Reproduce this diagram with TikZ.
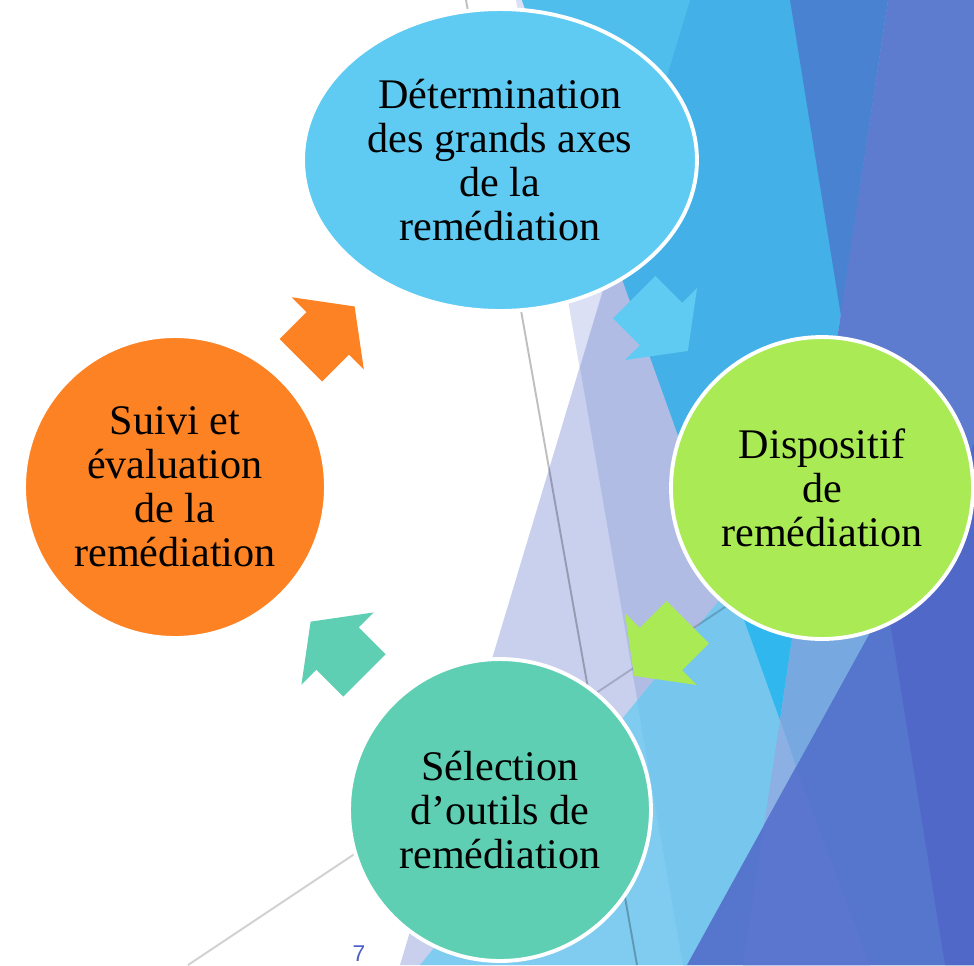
\documentclass[tikz,border=0pt]{standalone}
\usepackage{fontspec}
\setmainfont{Liberation Serif}
\newfontfamily\pagefont{Liberation Sans}
\usepackage{tikz}
\usetikzlibrary{shapes.geometric,calc}
\definecolor{bleuetape}{HTML}{5FCBF2}
\definecolor{vertetape}{HTML}{A9EA55}
\definecolor{tealetape}{HTML}{5ECFB3}
\definecolor{orangeetape}{HTML}{FD8223}
\definecolor{lavA}{HTML}{DCE0F4}
\definecolor{lavB}{HTML}{C8D0EE}
\definecolor{lavAB}{HTML}{B1BCE5}
\definecolor{facetA}{HTML}{50BEEC}
\definecolor{facetB}{HTML}{43B1E7}
\definecolor{facetC}{HTML}{4A82D2}
\definecolor{facetD}{HTML}{5E7CCF}
\definecolor{bandeA}{HTML}{80CCF0}
\definecolor{bandeB}{HTML}{76C6EE}
\definecolor{bandeC}{HTML}{30B8EE}
\definecolor{bandeD}{HTML}{77A9E0}
\definecolor{bandeE}{HTML}{8CB0E4}
\definecolor{basA}{HTML}{5675CD}
\definecolor{basB}{HTML}{5B76CE}
\definecolor{basC}{HTML}{5069C8}
\definecolor{numbleu}{HTML}{4A5FC8}
\tikzset{
	etape/.style={fill=#1, draw=white, line width=2.2pt, inner sep=0pt, align=center, font=\fontsize{24}{25}\selectfont},
	cercle/.style={etape=#1, circle, minimum size=6.04cm},
	trait/.style={draw=black, line width=1.1pt, draw opacity=#1}
}
\newcommand{\fleche}[3]{\fill[#3, shift={(#1)}, rotate=#2] (-38,-30) -- (0,-30) -- (0,-51) -- (38,0) -- (0,51) -- (0,30) -- (-38,30) -- cycle;}

\begin{document}
\begin{tikzpicture}[x=0.02cm, y=-0.02cm]
				\useasboundingbox (0,0) rectangle (974,965);
				\clip (0,0) rectangle (974,965);
				\fill[lavA] (516,0) -- (974,0) -- (974,965) -- (683,965) -- cycle;
				\fill[lavB] (690,0) -- (974,0) -- (974,965) -- (400,965) -- cycle;
				\fill[lavAB] (690,0) -- (580,367.5) -- (683,965) -- (974,965) -- (974,0) -- cycle;
				\fill[facetB] (522,0) -- (888,0) -- (780,720) -- cycle;
				\fill[facetA] (522,0) -- (690,0) -- (613,255) -- cycle;
				\fill[facetC] (790,0) -- (888,0) -- (841,316) -- cycle;
				\fill[facetD] (888,0) -- (974,0) -- (974,965) -- (743,965) -- (780,720) -- cycle;
				\fill[bandeA] (818,480) -- (910,560) -- (687,965) -- (420,965) -- cycle;
				\fill[bandeB] (637,701) -- (818,480) -- (910,560) -- (687,965) -- (683,965) -- cycle;
				\fill[bandeC] (732,586) -- (815,484) -- (780,720) -- cycle;
				\fill[bandeD] (815,484) -- (910,560) -- (796,767) -- (780,720) -- cycle;
				\fill[bandeE] (780,720) -- (796,767) -- (764,825) -- cycle;
				\fill[basA] (974,444) -- (974,965) -- (687,965) -- cycle;
				\fill[basB] (796,767) -- (764,825) -- (743,965) -- (870,965) -- cycle;
				\fill[basC] (887,603) -- (945,965) -- (974,965) -- (974,444) -- cycle;
				\draw[trait=0.25] (466,0) -- (637,965);
				\draw[trait=0.18] (188,965) -- (740,597);
				\node[etape=bleuetape, ellipse, minimum width=7.88cm, minimum height=6.04cm] (determ) at (500,160) {Détermination\\des grands axes\\de la\\remédiation};
				\node[cercle=vertetape] (dispo) at (822,488) {Dispositif\\de\\remédiation};
				\node[cercle=tealetape] (select) at (500,810) {Sélection\\d’outils de\\remédiation};
				\node[cercle=orangeetape] (suivi) at (175,487) {Suivi et\\évaluation\\de la\\remédiation};
				\fleche{$(determ)!0.5!(dispo)$}{-45}{bleuetape}
				\fleche{$(dispo)!0.5!(select)$}{-135}{vertetape}
				\fleche{$(select)!0.5!(suivi)$}{135}{tealetape}
				\fleche{$(suivi)!0.47!(determ)$}{45}{orangeetape}
				\node[font=\pagefont\fontsize{13}{13}\selectfont, text=numbleu, anchor=north, inner sep=0pt] (page) at (359,945) {7};
\end{tikzpicture}
\end{document}
